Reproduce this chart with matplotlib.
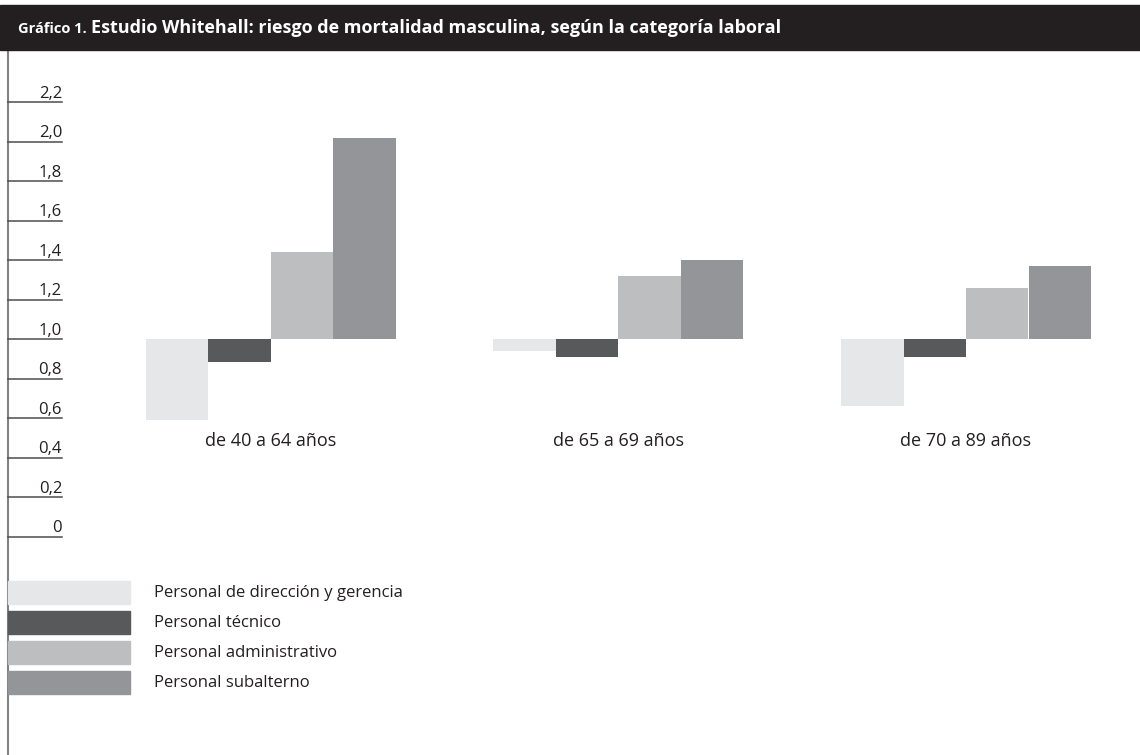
import matplotlib
matplotlib.use("Agg")
import matplotlib.pyplot as plt
import matplotlib.transforms as mtransforms
from matplotlib.patches import Rectangle
import numpy as np

# --- DATA ---
groups = ["de 40 a 64 años", "de 65 a 69 años", "de 70 a 89 años"]
categories = ["Personal de dirección y gerencia", "Personal técnico",
              "Personal administrativo", "Personal subalterno"]
direccion = [0.59, 0.94, 0.66]
tecnico = [0.885, 0.91, 0.91]
administrativo = [1.44, 1.32, 1.26]
subalterno = [2.02, 1.40, 1.37]
series = [direccion, tecnico, administrativo, subalterno]
colors = ["#e6e7e8", "#58595b", "#bcbec0", "#939598"]
yticks = [0, 0.2, 0.4, 0.6, 0.8, 1.0, 1.2, 1.4, 1.6, 1.8, 2.0, 2.2]
ytick_labels = ["0", "0,2", "0,4", "0,6", "0,8", "1,0", "1,2", "1,4", "1,6", "1,8", "2,0", "2,2"]
baseline = 1.0

plt.rcParams["font.family"] = ["Open Sans", "DejaVu Sans"]

W, H = 1140, 755
fig = plt.figure(figsize=(W / 100, H / 100), dpi=100)
ax = fig.add_axes([0, 0, 1, 1])
ax.set_axis_off()

# axes mapping: baseline (1.0) at pixel row 339, 197.5 px per unit; groups 347.75 px apart
ax.set_ylim(1 - (H - 339) / 197.5, 1 + 339 / 197.5)
ax.set_xlim(-270.5 / 347.75, (W - 270.5) / 347.75)

# --- title bar ---
fig.patches.append(Rectangle((0, 1 - 50 / H), 1, 45 / H, transform=fig.transFigure,
                             color="#231f20", zorder=0))
t1 = fig.text(18 / W, 1 - 29 / H, "Gráfico 1.", color="white", fontsize=10.5,
              fontweight="bold", va="center", ha="left")
fig.canvas.draw()
bb = t1.get_window_extent()
fig.text((bb.x1 + 4) / W, 1 - 28 / H,
         "Estudio Whitehall: riesgo de mortalidad masculina, según la categoría laboral",
         color="white", fontsize=13, fontweight="bold", va="center", ha="left")

# --- left vertical rule ---
ax.plot([8 / W, 8 / W], [0, 1 - 50 / H], transform=ax.transAxes,
        color="#808285", lw=1.5, clip_on=False)

# --- y ticks: line below, label above ---
blend = mtransforms.blended_transform_factory(ax.transAxes, ax.transData)
for v, lab in zip(yticks, ytick_labels):
    ax.plot([8 / W, 62 / W], [v, v], transform=blend, color="#4d4d4f", lw=1.1)
    ax.text(62 / W, v + 0.022, lab, transform=blend, ha="right", va="baseline",
            fontsize=12, color="#231f20")

# --- bars ---
x = np.arange(len(groups))
w = 62.5 / 347.75
for j, (vals, c) in enumerate(zip(series, colors)):
    vals = np.array(vals)
    ax.bar(x + (j - 1.5) * w, vals - baseline, bottom=baseline, width=w,
           color=c, align="center", linewidth=0)

# --- group labels ---
blend_x = mtransforms.blended_transform_factory(ax.transData, ax.transAxes)
for xi, g in zip(x, groups):
    ax.text(xi, 1 - 441 / H, g, transform=blend_x, ha="center", va="center",
            fontsize=13, color="#231f20")

# --- legend ---
for k, (lab, c) in enumerate(zip(categories, colors)):
    top = 581 + k * 30
    fig.patches.append(Rectangle((8 / W, 1 - (top + 22.5) / H), 122 / W, 22.5 / H,
                                 transform=fig.transFigure, color=c))
    fig.text(154 / W, 1 - (top + 12) / H, lab, ha="left", va="center",
             fontsize=12, color="#231f20")

fig.savefig("out.png", dpi=100)
